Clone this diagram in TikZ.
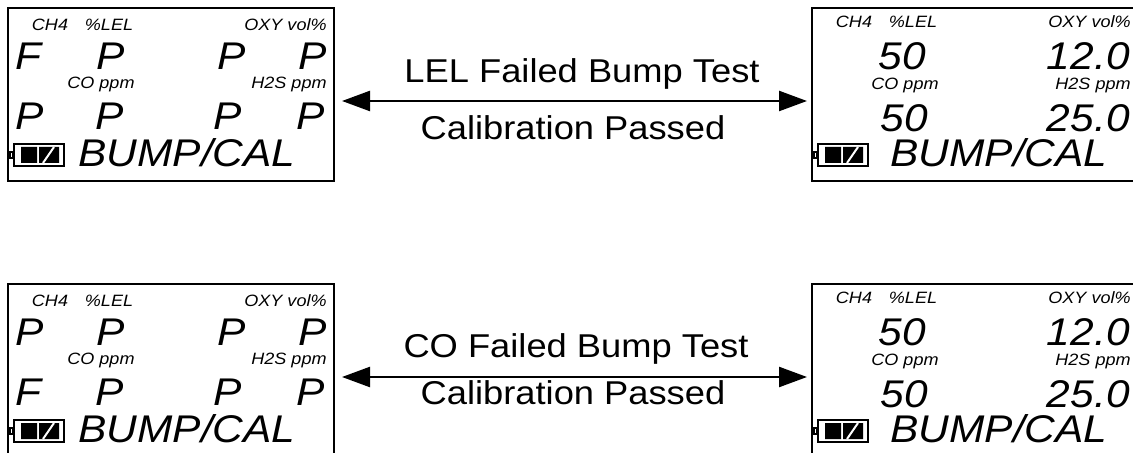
\documentclass[tikz,border=0pt]{standalone}
\usepackage{xcolor}
\usepackage{fontspec}
\newfontfamily\lcd[FakeStretch=1.1]{Liberation Sans}
\usepackage{tikz}
\usetikzlibrary{arrows.meta}

\begin{document}
\begin{tikzpicture}[x=0.5pt, y=-0.5pt]
\tikzstyle{lcdbox}=[draw, line width=1pt, minimum width=163pt, minimum height=86.5pt, inner sep=0]
\tikzstyle{tag}=[inner sep=0, font=\lcd\itshape\fontsize{8.2}{9}\selectfont]
\tikzstyle{big}=[inner sep=0, font=\lcd\itshape\fontsize{19.3}{20}\selectfont]
\tikzstyle{msg}=[inner sep=0, font=\lcd\fontsize{16.5}{18}\selectfont]
\tikzstyle{link}=[{Triangle[length=14pt,width=10pt]}-{Triangle[length=14pt,width=10pt]}, line width=1.2pt, shorten <=3.5pt, shorten >=2pt]
\useasboundingbox (0,0) rectangle (1133,453);
\clip (0,0) rectangle (1133,453);
% screens: frame, gas tags, battery, mode
\foreach \d/\x/\y/\t/\c/\m in {A/7/7/24/82/71, B/811/7/21/83/79, C/7/283/24/82/71, D/811/283/21/83/79} {
  \begin{scope}[shift={(\x,\y)}]
  \node[lcdbox, anchor=north west] (\d) at (0,0) {};
  \node[tag, anchor=base] (\d-ch4) at (43,\t) {CH4};
  \node[tag, anchor=base] (\d-lel) at (102,\t) {\%LEL};
  \node[tag, anchor=base east] (\d-oxy) at (320,\t) {OXY vol\%};
  \node[tag, anchor=base west] (\d-co) at (60,\c) {CO ppm};
  \node[tag, anchor=base east] (\d-h2s) at (320,\c) {H2S ppm};
  \draw[line width=0.8pt, fill=white] (3,145) rectangle (6,151);
  \draw[line width=1pt] (7,137) rectangle (57,159);
  \fill (14,140) rectangle (30,156) (32,140) rectangle (52,156);
  \draw[white, line width=1pt] (36,156) -- (47,140);
  \node[big, anchor=base west] (\d-mode) at (\m,160) {BUMP/CAL};
  \end{scope}
}
% pass / fail screens
\foreach \d/\y/\p/\q in {A/7/F/P, C/283/P/F} {
  \begin{scope}[shift={(7,\y)}]
  \node[big, anchor=base west] (\d-v1) at (8,63) {\p};
  \node[big, anchor=base west] (\d-v2) at (89,63) {P};
  \node[big, anchor=base west] (\d-v3) at (210,63) {P};
  \node[big, anchor=base east] (\d-v4) at (320,63) {P};
  \node[big, anchor=base west] (\d-v5) at (8,123) {\q};
  \node[big, anchor=base west] (\d-v6) at (88,123) {P};
  \node[big, anchor=base west] (\d-v7) at (206,123) {P};
  \node[big, anchor=base east] (\d-v8) at (318,123) {P};
  \end{scope}
}
% reading screens
\foreach \d/\y in {B/7, D/283} {
  \begin{scope}[shift={(811,\y)}]
  \node[big, anchor=base west] (\d-v1) at (67,63) {50};
  \node[big, anchor=base east] (\d-v2) at (319,63) {12.0};
  \node[big, anchor=base west] (\d-v3) at (69,125) {50};
  \node[big, anchor=base east] (\d-v4) at (319,125) {25.0};
  \end{scope}
}
\draw[link] ([yshift=-3.25pt]A.east) -- ([yshift=-3.25pt]B.west);
\draw[link] ([yshift=-3.25pt]C.east) -- ([yshift=-3.25pt]D.west);
\node[msg, anchor=base] (lelfail) at (582,83) {LEL Failed Bump Test};
\node[msg, anchor=base] (lelcal) at (573,140) {Calibration Passed};
\node[msg, anchor=base] (cofail) at (576,358) {CO Failed Bump Test};
\node[msg, anchor=base] (cocal) at (573,405) {Calibration Passed};
\end{tikzpicture}
\end{document}
